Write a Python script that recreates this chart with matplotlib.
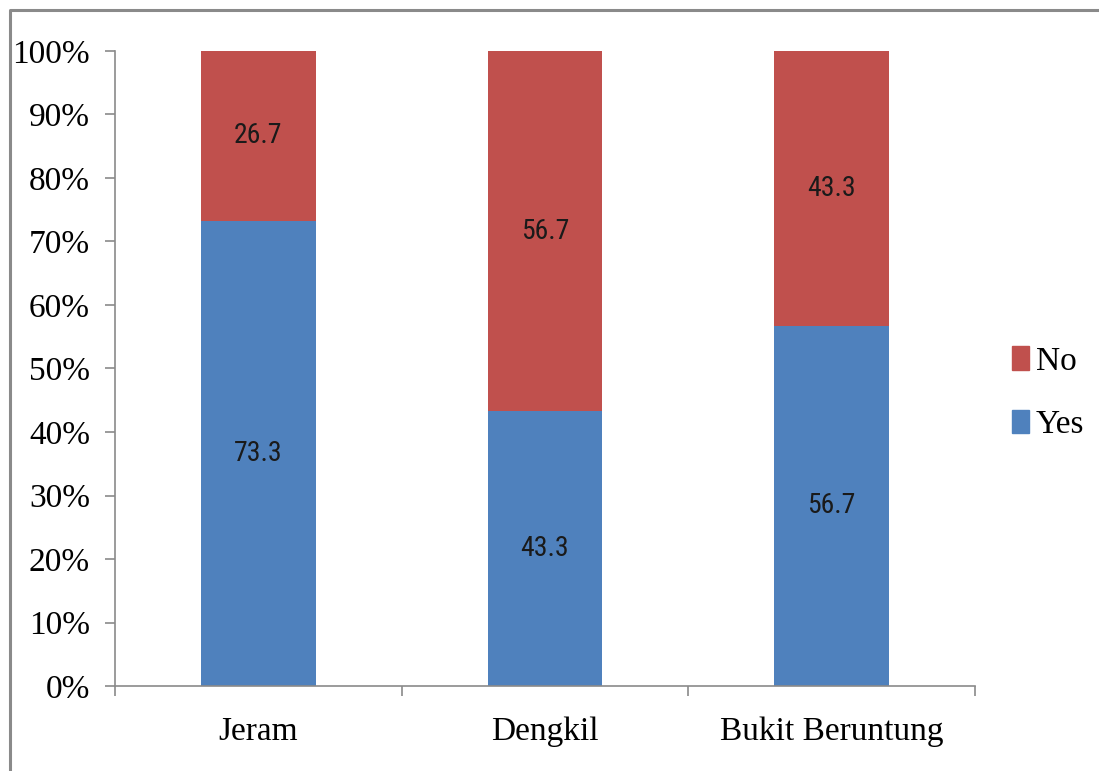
import matplotlib
matplotlib.use("Agg")
import matplotlib.pyplot as plt
import matplotlib.font_manager as fm
from matplotlib.lines import Line2D
from matplotlib.patches import Patch
import numpy as np

# ---------------------------------------------------------------------------
# Data (percent of respondents per district)
# ---------------------------------------------------------------------------
districts = ["Jeram", "Dengkil", "Bukit Beruntung"]
yes_pct = [73.3, 43.3, 56.7]
no_pct = [26.7, 56.7, 43.3]
yes_labels = ["73.3", "43.3", "56.7"]
no_labels = ["26.7", "56.7", "43.3"]
yticks = [0, 10, 20, 30, 40, 50, 60, 70, 80, 90, 100]

BLUE = "#4F81BD"
RED = "#C0504D"
GRAY = "#8a8a8a"


def pick_font(candidates, default):
    for name in candidates:
        try:
            fm.findfont(fm.FontProperties(family=name), fallback_to_default=False)
            return name
        except Exception:
            continue
    return default


SERIF = pick_font(["Liberation Serif", "DejaVu Serif"], "DejaVu Serif")
NARROW = pick_font(["Liberation Sans Narrow", "Roboto Condensed", "Open Sans Condensed",
                    "Liberation Sans"], "DejaVu Sans")
num_size = 18 if NARROW == "Liberation Sans" else 20

fig = plt.figure(figsize=(10.99, 7.71), dpi=100)
ax = fig.add_axes([0.1046, 0.1102, 0.7826, 0.8237])

x = np.arange(len(districts))
ax.bar(x, yes_pct, width=0.4, color=BLUE, label="Yes")
ax.bar(x, no_pct, width=0.4, bottom=yes_pct, color=RED, label="No")

for xi, y, n, yl, nl in zip(x, yes_pct, no_pct, yes_labels, no_labels):
    ax.text(xi, y / 2, yl, ha="center", va="center", fontsize=num_size,
            family=NARROW, color="#1a1a1a")
    ax.text(xi, y + n / 2, nl, ha="center", va="center", fontsize=num_size,
            family=NARROW, color="#1a1a1a")

ax.set_xlim(-0.5, len(districts) - 0.5)
ax.set_ylim(0, 100)
ax.set_yticks(yticks)
ax.set_yticklabels([f"{t}%" for t in yticks], family=SERIF, fontsize=24)
ax.set_xticks(x)
ax.set_xticklabels(districts, family=SERIF, fontsize=24)
ax.set_xticks(np.arange(len(districts) + 1) - 0.5, minor=True)

ax.tick_params(axis="y", length=7, width=1.2, color=GRAY, pad=11)
ax.tick_params(axis="x", which="major", length=0, pad=22)
ax.tick_params(axis="x", which="minor", length=7, width=1.2, color=GRAY)

for side in ["top", "right"]:
    ax.spines[side].set_visible(False)
for side in ["left", "bottom"]:
    ax.spines[side].set_color(GRAY)
    ax.spines[side].set_linewidth(1.2)

handles = [Patch(color=RED, label="No"), Patch(color=BLUE, label="Yes")]
fig.legend(handles=handles, loc="center left", bbox_to_anchor=(0.906, 0.49),
           frameon=False, prop={"family": SERIF, "size": 24},
           handlelength=0.5, handleheight=0.7, handletextpad=0.2,
           labelspacing=1.0, borderpad=0)

# outer chart-area border (only top and left edges fall inside the image)
fig.add_artist(Line2D([0.0087, 0.0087, 1.01], [-0.01, 0.9864, 0.9864],
                      transform=fig.transFigure, color=GRAY, linewidth=2.2))

fig.savefig("out.png", dpi=100)
